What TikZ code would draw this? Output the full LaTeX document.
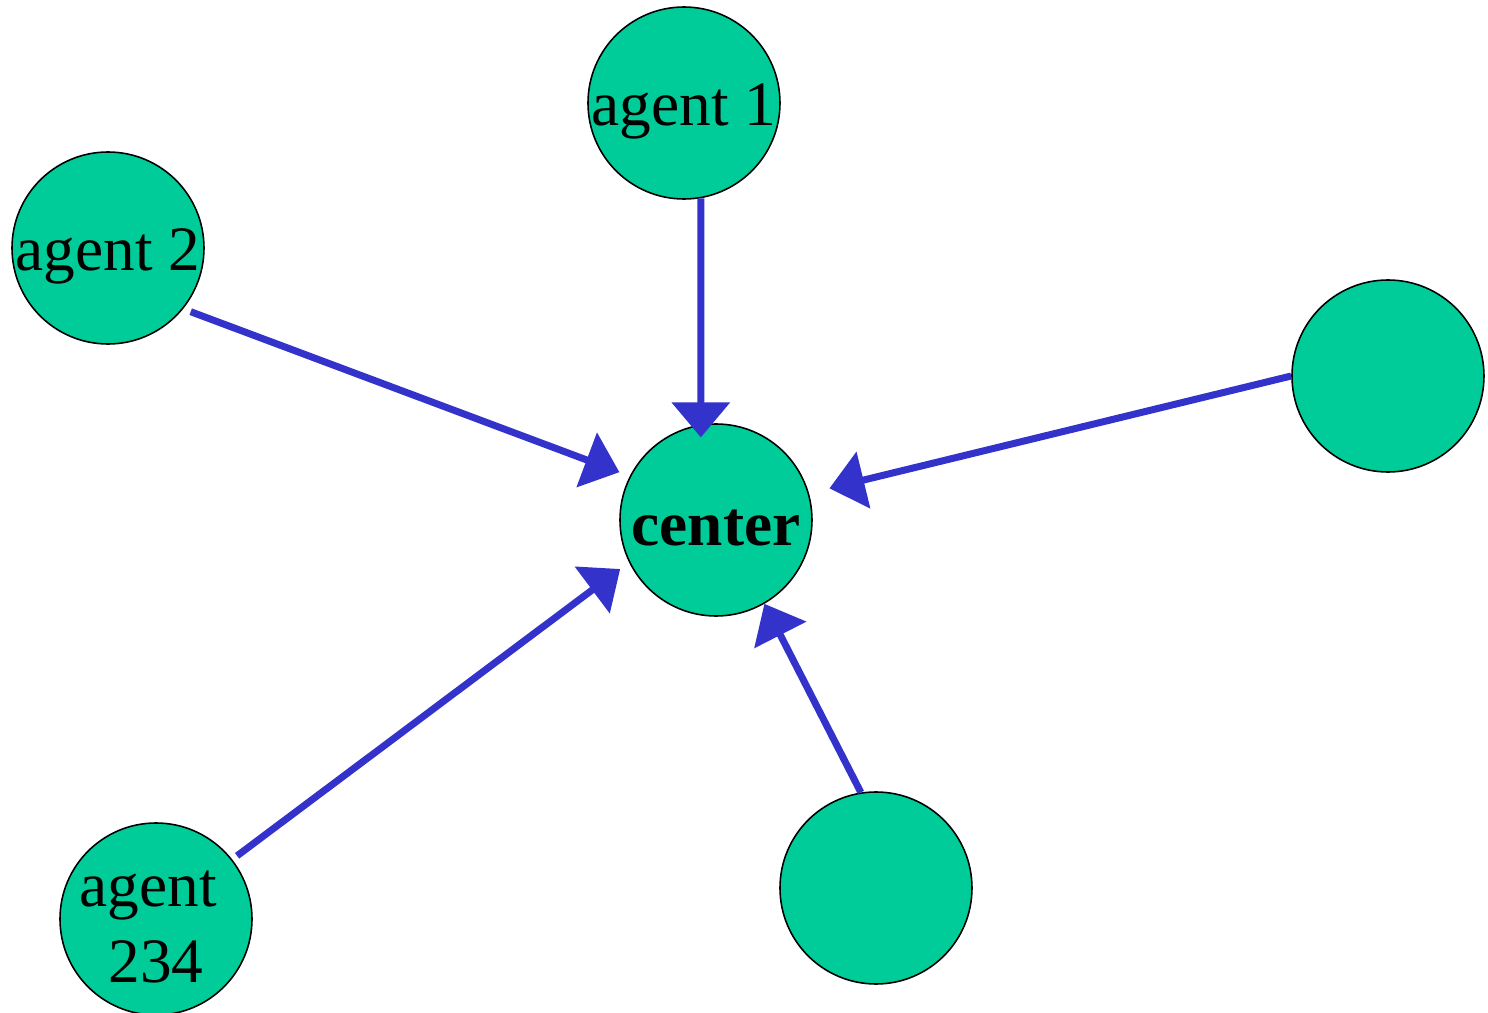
\documentclass[tikz,border=0pt]{standalone}
\usepackage{fontspec}
\setmainfont{Liberation Serif}
\usetikzlibrary{arrows.meta}

\definecolor{agentgreen}{HTML}{00CC99}
\definecolor{linkblue}{HTML}{3333CC}

\begin{document}
\begin{tikzpicture}[
		agent/.style={circle, draw=black, line width=0.45pt, fill=agentgreen, minimum size=1.92cm, inner sep=0pt},
		tag/.style={inner sep=0pt, align=center, yshift=-0.08cm, font=\fontsize{18}{21.5}\selectfont},
		link/.style={linkblue, line width=0.07cm, -{Triangle[length=0.35cm, width=0.57cm]}}
	]
		\useasboundingbox (0, 0) rectangle (14.88, 10.12);

		\node[agent, label={[tag]center:\textbf{center}}] (c) at (7.16, 4.92) {};
		\node[agent, label={[tag]center:agent 1}] (a1) at (6.84, 9.09) {};
		\node[agent, label={[tag]center:agent 2}] (a2) at (1.08, 7.64) {};
		\node[agent] (ar) at (13.88, 6.36) {};
		\node[agent] (ab) at (8.76, 1.24) {};
		\node[agent, label={[tag]center:\mbox{agent\ }\\234}] (a234) at (1.56, 0.93) {};

		\draw[link, shorten >=-0.13cm]	(a1.-80.4) to (c.99.6);
		\draw[link, shorten <=0.08cm, shorten >=0.11cm]	(a2.-39) to (c.153);
		\draw[link, shorten >=0.21cm]	(ar.west) to (c.16);
		\draw[link, shorten <=0.06cm, shorten >=0.11cm]	(a234.38) to (c.206);
		\draw[link]	(ab.99) to (c.-60);
	\end{tikzpicture}
\end{document}
